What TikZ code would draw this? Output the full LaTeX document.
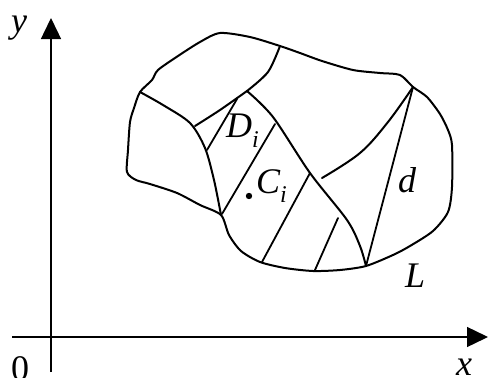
\documentclass[tikz,border=0pt]{standalone}
\usepackage{fontspec}
\setmainfont{Liberation Serif}
\usetikzlibrary{arrows.meta}
\begin{document}
\begin{tikzpicture}[x=1pt,y=-1pt,
  region/.style={line width=2pt,line join=round,line cap=round},
  chord/.style={line width=1.8pt,line cap=round},
  axis/.style={line width=1.4pt,-{Triangle[length=21pt,width=20pt]}},
  lbl/.style={font=\fontsize{36}{40}\selectfont\itshape,inner sep=0pt,anchor=base west}]
\useasboundingbox (0,0) rectangle (488,378);
% axes
\coordinate (xs) at (12,337);
\coordinate (xe) at (488,337);
\coordinate (ys) at (51,372);
\coordinate (ye) at (51,18);
\draw[axis] (xs) -- (xe);
\draw[axis] (ys) -- (ye);
\node[lbl] (ylab) at (11,32) {y};
\node[lbl,font=\fontsize{36}{40}\selectfont] (zero) at (11,380) {0};
\node[lbl] (xlab) at (456,375) {x};
% key points
\coordinate (J1) at (140,92);
\coordinate (J2) at (280,46);
\coordinate (J3) at (247,91);
\coordinate (J4) at (221,215);
\coordinate (R) at (413,87);
\coordinate (B) at (366,266);
% outer boundary L
\draw[region] plot[smooth cycle,tension=0.45] coordinates {
 (220,33) (250,37) (J2) (300,53) (322,61) (353,70) (380,73) (400,75) (R)
 (427,97) (440,114) (448,130) (452,145) (452,187) (448,212) (433,231)
 (410,246) (393,255) (B) (340,270) (313,271) (285,268) (260,262)
 (241,251) (229,235) (J4) (200,205) (177,193) (150,184) (136,180)
 (127,172) (128,150) (130,122) (134,108) (J1) (152,80) (158,70)
 (178,56) (200,42)};
% interior curves
\draw[region] plot[smooth,tension=0.5] coordinates {(J1) (163,105) (190,123) (205,148) (214,180) (J4)};
\draw[region] plot[smooth,tension=0.5] coordinates {(J2) (268,72) (J3)};
\draw[region] plot[smooth,tension=0.5] coordinates {(J3) (220,110) (195,126)};
\draw[region] plot[smooth,tension=0.5] coordinates {(J3) (273,117) (310,173) (347,220) (360,246) (B)};
\draw[region] plot[smooth,tension=0.6] coordinates {(322,178) (360,153) (388,122) (R)};
% chords
\coordinate (a1) at (237,99);  \coordinate (a2) at (207,150);
\coordinate (b1) at (275,124); \coordinate (b2) at (222,214);
\coordinate (c1) at (310,173); \coordinate (c2) at (262,262);
\coordinate (e1) at (338,218); \coordinate (e2) at (315,270);
\draw[chord] (a1) -- (a2);
\draw[chord] (b1) -- (b2);
\draw[chord] (c1) -- (c2);
\draw[chord] (e1) -- (e2);
\draw[chord] (R) -- (B);
% labels
\node[lbl] (Di) at (226,137) {D\raisebox{-10pt}{\fontsize{24}{28}\selectfont i}};
\node[lbl] (Ci) at (256,193) {C\raisebox{-9pt}{\fontsize{24}{28}\selectfont i}};
\fill (249,196) circle (3.2pt);
\node[lbl] (dlab) at (398,192) {d};
\node[lbl] (Llab) at (405,287) {L};
\end{tikzpicture}
\end{document}
